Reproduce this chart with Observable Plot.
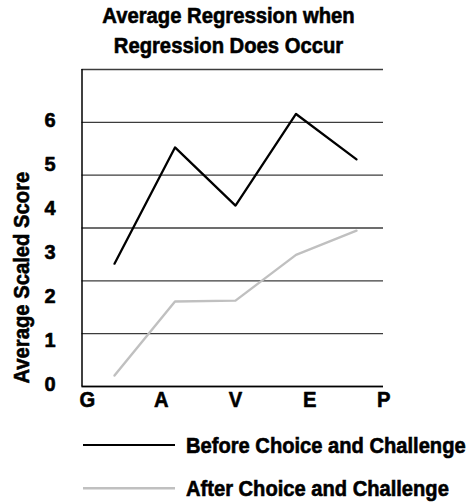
<!DOCTYPE html>
<html><head><meta charset="utf-8">
<script src="https://cdn.jsdelivr.net/npm/d3@7"></script>
<script src="https://cdn.jsdelivr.net/npm/@observablehq/plot@0.6"></script>
<style>
body{margin:0;width:470px;height:504px;position:relative;background:#fff;font-family:"Liberation Sans",Arial,sans-serif;font-weight:bold;color:#000;overflow:hidden}
#title{position:absolute;left:0;top:1px;width:457px;text-align:center;font-size:22px;line-height:30px;-webkit-text-stroke:0.6px #000}
#title span{display:block;transform:scaleX(0.92);transform-origin:center}
#chart{position:absolute;left:0;top:62px}
.leg{position:absolute;left:83px;height:30px;display:flex;align-items:flex-start;font-size:22px;line-height:30px;white-space:nowrap;-webkit-text-stroke:0.6px #000}
.leg svg{margin-right:11px;flex:none}
.leg span{display:inline-block;transform:scaleX(0.915);transform-origin:left}
</style></head><body>
<div id="title"><span>Average Regression when</span><span>Regression Does Occur</span></div>
<div id="chart"></div>
<div class="leg" style="top:431px"><svg width="92" height="30"><line x1="0" x2="92" y1="14" y2="14" stroke="#000" stroke-width="2.2"/></svg><span>Before Choice and Challenge</span></div>
<div class="leg" style="top:474px"><svg width="92" height="30"><line x1="0" x2="92" y1="14.3" y2="14.3" stroke="#c0c0c0" stroke-width="2.4"/></svg><span>After Choice and Challenge</span></div>
<script>
const categories = ["G", "A", "V", "E", "P"];
const before = [2.79, 5.43, 4.11, 6.19, 5.16];
const after = [0.25, 1.93, 1.95, 2.99, 3.54];
const yTicks = [0, 1, 2, 3, 4, 5, 6];
const gridStep = 1.2, gridMax = 7.2;
const labelShift = -0.45, labelStep = 1.225;
const xMin = -0.537, xMax = 4.446;
const font = '"Liberation Sans",Arial,sans-serif';
const textStyle = {fontWeight: "bold", fill: "#000", stroke: "#000", strokeWidth: 0.6};

const chart = Plot.plot({
  width: 470, height: 360,
  marginTop: 7, marginLeft: 81.5, marginRight: 87, marginBottom: 36,
  style: {fontFamily: font, background: "#fff"},
  x: {type: "linear", domain: [xMin, xMax], axis: null},
  y: {domain: [0, gridMax], axis: null},
  marks: [
    Plot.ruleY(d3.range(0, gridMax + 0.01, gridStep), {stroke: "#3c3c3c", strokeWidth: 1.3}),
    Plot.ruleY([0], {stroke: "#000", strokeWidth: 1.5}),
    Plot.ruleX([xMin], {stroke: "#000", strokeWidth: 1.5}),
    Plot.line(before, {x: (d, i) => i, y: d => d, stroke: "#000", strokeWidth: 2.3}),
    Plot.line(after, {x: (d, i) => i, y: d => d, stroke: "#c0c0c0", strokeWidth: 2.4}),
    Plot.text(yTicks, {x: xMin, y: d => d, text: d => String(d), textAnchor: "end", dx: -26.5, dy: -2, fontSize: 20, ...textStyle}),
    Plot.text(categories, {x: (d, i) => labelShift + labelStep * i, frameAnchor: "bottom", dy: 20, text: d => d, fontSize: 22, ...textStyle}),
    Plot.text(["Average Scaled Score"], {frameAnchor: "bottom-left", textAnchor: "start", lineAnchor: "middle", rotate: -90, dx: -60, dy: -3, text: d => d, fontSize: 22, ...textStyle})
  ]
});
chart.querySelectorAll("text").forEach(t => {
  const tr = t.getAttribute("transform");
  if (tr && !/^\d$/.test(t.textContent)) t.setAttribute("transform", tr + " scale(0.92,1)");
});
document.getElementById("chart").append(chart);
</script>
</body></html>
